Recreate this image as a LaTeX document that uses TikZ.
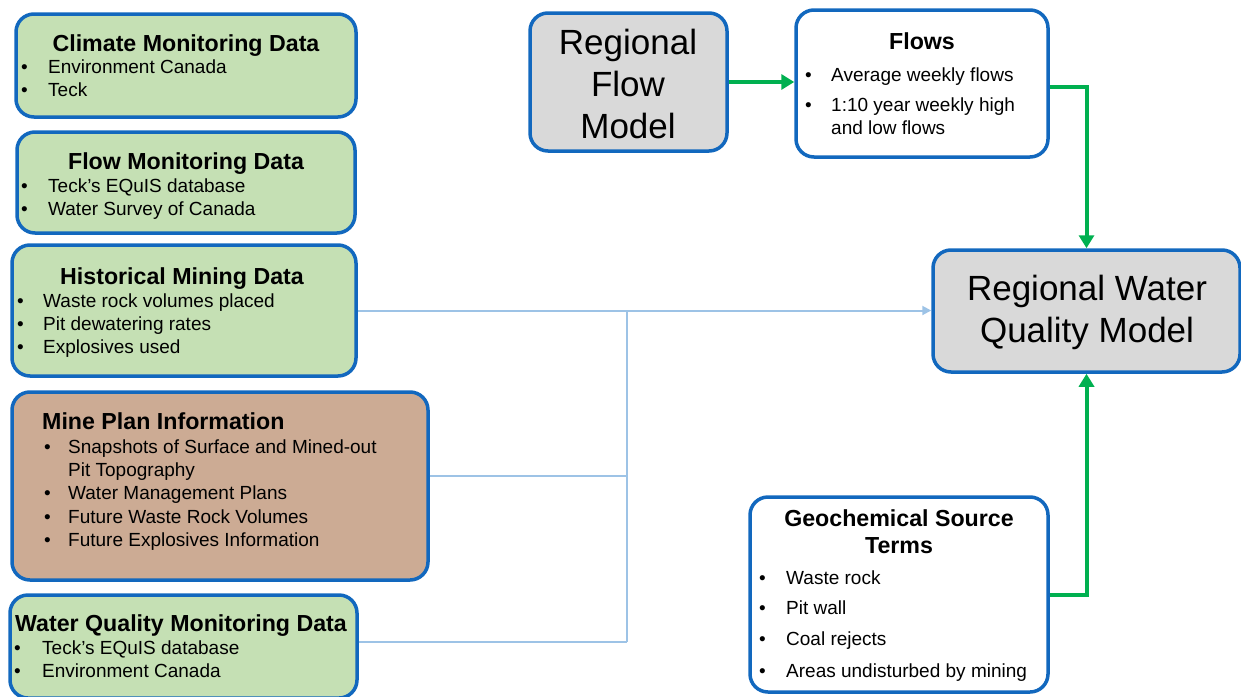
\documentclass[tikz,border=0pt]{standalone}
\usepackage{fontspec}
\setmainfont{Liberation Sans}
\usetikzlibrary{arrows.meta}

\definecolor{boxblue}{RGB}{18,104,190}
\definecolor{datagreen}{RGB}{197,224,180}
\definecolor{minebrown}{RGB}{204,171,148}
\definecolor{modelgray}{RGB}{217,217,217}
\definecolor{linkblue}{RGB}{157,195,230}
\definecolor{flowgreen}{RGB}{0,176,80}

\newcommand{\bul}[1]{\makebox[#1][l]{\textbullet}}

\begin{document}
\begin{tikzpicture}[x=1pt, y=-1pt,
            box/.style = {draw=boxblue, line width=3.5pt, rounded corners=18pt, inner sep=0pt},
            ttl/.style = {font=\bfseries\fontsize{23.2}{27}\selectfont, anchor=base, inner sep=0pt},
            itm/.style = {font=\fontsize{19}{23.4}\selectfont, anchor=base west, inner sep=0pt},
            mdl/.style = {font=\fontsize{35}{42}\selectfont, align=center, inner sep=0pt},
            feed/.style = {draw=linkblue, line width=2pt},
            green link/.style = {draw=flowgreen, line width=4pt, -{Triangle[length=13pt,width=15pt]}},
            ]
            \useasboundingbox (0,0) rectangle (1241,696);

            % data boxes on the left
            \node[box, fill=datagreen, minimum width=340pt, minimum height=103pt] (climate) at (186,65.5) {};
            \node[ttl] (climatettl) at (186,51) {Climate Monitoring Data};
            \node[itm] (climateitm) at (21,73) {\begin{tabular}[t]{@{}l@{}}
                \bul{27pt}Environment Canada\\ \bul{27pt}Teck\end{tabular}};

            \node[box, fill=datagreen, minimum width=338pt, minimum height=101pt] (flowmon) at (186,182.5) {};
            \node[ttl] (flowmonttl) at (186,169) {Flow Monitoring Data};
            \node[itm] (flowmonitm) at (21,192) {\begin{tabular}[t]{@{}l@{}}
                \bul{27pt}Teck's EQuIS database\\ \bul{27pt}Water Survey of Canada\end{tabular}};

            \node[box, fill=datagreen, minimum width=344pt, minimum height=131pt] (histmin) at (184,310.5) {};
            \node[ttl] (histminttl) at (182,284) {Historical Mining Data};
            \node[itm] (histminitm) at (17,307) {\begin{tabular}[t]{@{}l@{}}
                \bul{26pt}Waste rock volumes placed\\ \bul{26pt}Pit dewatering rates\\
                \bul{26pt}Explosives used\end{tabular}};

            \node[box, fill=minebrown, minimum width=416pt, minimum height=188pt] (mineplan) at (220,486) {};
            \node[ttl, anchor=base west] (mineplanttl) at (42,429) {Mine Plan Information};
            \node[itm] (mineplanitm) at (44,453) {\begin{tabular}[t]{@{}l@{}}
                \bul{24pt}Snapshots of Surface and Mined-out\\
                \hspace*{24pt}Pit Topography\\ \bul{24pt}Water Management Plans\\
                \bul{24pt}Future Waste Rock Volumes\\ \bul{24pt}Future Explosives Information\end{tabular}};

            \node[box, fill=datagreen, minimum width=347pt, minimum height=103pt] (wqmon) at (183.5,646.5) {};
            \node[ttl] (wqmonttl) at (181,631) {Water Quality Monitoring Data};
            \node[itm] (wqmonitm) at (14,654) {\begin{tabular}[t]{@{}l@{}}
                \bul{28pt}Teck's EQuIS database\\ \bul{28pt}Environment Canada\end{tabular}};

            % models and inputs on the right
            \node[box, fill=modelgray, minimum width=197pt, minimum height=138pt] (rfm) at (628.5,82) {};
            \node[mdl] (rfmtxt) at (628,84) {Regional\\Flow\\Model};

            \node[box, fill=white, minimum width=252pt, minimum height=147pt] (flows) at (922,83.5) {};
            \node[ttl] (flowsttl) at (922,49) {Flows};
            \node[itm] (flowsitm) at (805,81) {\begin{tabular}[t]{@{}l@{}}
                \bul{26pt}Average weekly flows\\[7pt]
                \bul{26pt}1:10 year weekly high\\ \hspace*{26pt}and low flows\end{tabular}};

            \node[box, fill=modelgray, minimum width=307pt, minimum height=122pt] (rwqm) at (1086.5,311) {};
            \node[mdl] (rwqmtxt) at (1087,312) {Regional Water\\Quality Model};

            \node[box, fill=white, minimum width=298pt, minimum height=195pt] (geo) at (899,594.5) {};
            \node[ttl, align=center] (geottl) at (899,553) {Geochemical Source\\Terms};
            \node[itm] (geoitm) at (759,584) {\begin{tabular}[t]{@{}l@{}}
                \bul{27pt}Waste rock\\[7.5pt] \bul{27pt}Pit wall\\[7.5pt]
                \bul{27pt}Coal rejects\\[8pt] \bul{27pt}Areas undisturbed by mining\end{tabular}};

            % connectors
            \coordinate (jtop) at (627,310.5);
            \coordinate (jbot) at (627,642);
            \draw[feed, -{Triangle[length=9pt,width=9pt]}] (histmin.east) -- (histmin.east -| rwqm.west);
            \draw[feed] (jtop) -- (jbot);
            \draw[feed] ([yshift=10pt]mineplan.east) -- ([yshift=10pt]mineplan.east -| jtop);
            \draw[feed] ([yshift=4.5pt]wqmon.east) -- (jbot);

            \draw[green link] (rfm.east) -- (rfm.east -| flows.west);
            \draw[green link] ([yshift=-3.5pt]flows.east) -| (rwqm.north);
            \draw[green link] (geo.east) -| (rwqm.south);
\end{tikzpicture}
\end{document}
